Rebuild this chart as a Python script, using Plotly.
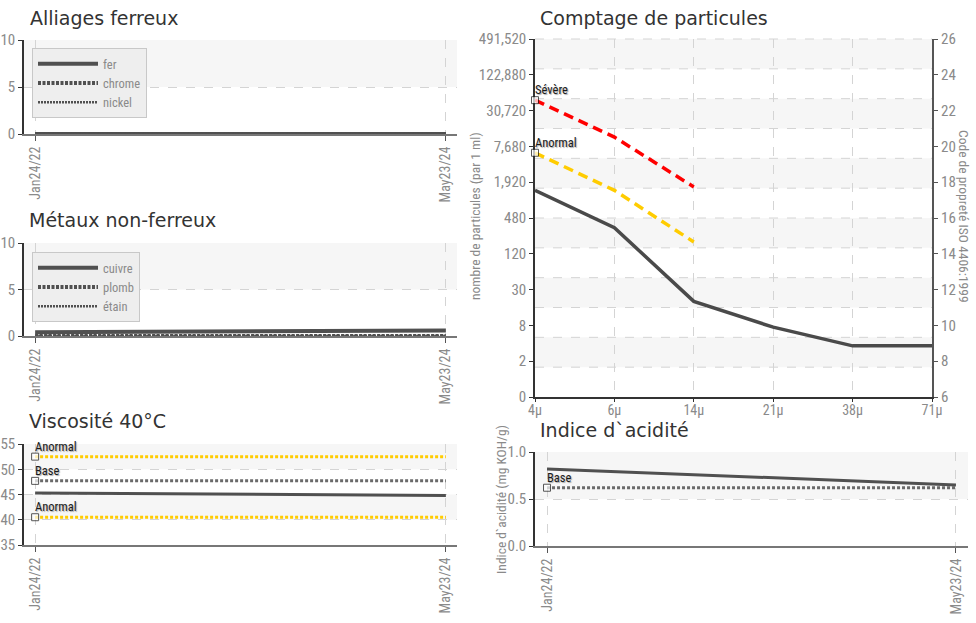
import math
import plotly.graph_objects as go

# ---------------- data ----------------
dates = ["2022-01-24", "2024-05-23"]
date_labels = ["Jan24/22", "May23/24"]

fer = [0, 0]
chrome = [0, 0]
nickel = [0, 0]

cuivre = [0.4, 0.6]
plomb = [0, 0]
etain = [0, 0]

visc = [45.3, 44.8]
visc_anormal_haut = [52.5, 52.5]
visc_base = [47.7, 47.7]
visc_anormal_bas = [40.5, 40.5]

acide = [0.82, 0.65]
acide_base = [0.62, 0.62]

tailles = ["4µ", "6µ", "14µ", "21µ", "38µ", "71µ"]
particules = [1400, 330, 19, 7.0, 3.4, 3.4]
particules_severe = [46000, 11000, 1600]
particules_anormal = [6000, 1400, 190]
comptage_ticks = [0.46875, 1.875, 7.5, 30, 120, 480, 1920, 7680, 30720, 122880, 491520]
comptage_labels = ["0", "2", "8", "30", "120", "480", "1,920", "7,680", "30,720", "122,880", "491,520"]
iso_ticks = [6, 8, 10, 12, 14, 16, 18, 20, 22, 24, 26]

ticks_ferreux = [0, 5, 10]
ticks_visc = [35, 40, 45, 50, 55]
ticks_acide = [0.0, 0.5, 1.0]

# ---------------- style ----------------
W, H = 976, 623
def fx(p):
    return p / W
def fy(p):
    return 1 - p / H

NARROW = "Liberation Sans Narrow, Roboto Condensed, Arial Narrow, Liberation Sans, sans-serif"
TITLE = "DejaVu Sans, Verdana, sans-serif"
DARK = "#505050"
YEL = "#ffcc00"
GRID = "#d4d4d4"
BAND = "#f6f6f6"
TICKF = dict(family=NARROW, size=15, color="#8a8a8a")
LBLF = dict(family=NARROW, size=12.5, color="#1a1a1a", shadow="1px 1px 1px #a8a8a8")

fig = go.Figure()
ann = []

def line(x, y, xa, ya, name, width, dash="solid", color=DARK, legend=None):
    fig.add_trace(go.Scatter(
        x=x, y=y, xaxis=xa, yaxis=ya, name=name, mode="lines",
        line=dict(color=color, width=width, dash=dash),
        showlegend=legend is not None, legend=legend or "legend",
        hoverinfo="skip"))

def seuil(x, y, xa, ya, label, color, width, dash, log=False):
    fig.add_trace(go.Scatter(
        x=x, y=y, xaxis=xa, yaxis=ya, mode="lines+markers",
        line=dict(color=color, width=width, dash=dash),
        marker=dict(symbol="square", size=[7] + [0] * (len(y) - 1), color="white",
                    line=dict(color="#111", width=1)),
        showlegend=False, cliponaxis=False, hoverinfo="skip"))
    ya_pos = math.log10(y[0]) if log else y[0]
    xa_pos = 0 if log else x[0]
    ann.append(dict(text=label, x=xa_pos, y=ya_pos, xref=xa, yref=ya, xanchor="left",
                    yanchor="bottom", xshift=-2, yshift=1, showarrow=False, font=LBLF))

# chart 1: Alliages ferreux
line(dates, fer, "x", "y", "fer", 4, "solid", legend="legend")
line(dates, chrome, "x", "y", "chrome", 4, "3px,1.5px", legend="legend")
line(dates, nickel, "x", "y", "nickel", 2.5, "2px,1px", legend="legend")

# chart 2: Métaux non-ferreux
line(dates, cuivre, "x2", "y2", "cuivre", 4, "solid", legend="legend2")
line(dates, plomb, "x2", "y2", "plomb", 4, "3px,1.5px", legend="legend2")
line(dates, etain, "x2", "y2", "étain", 2.5, "2px,1px", legend="legend2")

# chart 3: viscosité
seuil(dates, visc_anormal_haut, "x3", "y3", "Anormal", YEL, 3, "3px,2px")
seuil(dates, visc_base, "x3", "y3", "Base", "#6a6a6a", 3, "3px,2px")
seuil(dates, visc_anormal_bas, "x3", "y3", "Anormal", YEL, 3, "3px,2px")
line(dates, visc, "x3", "y3", "viscosité", 3)

# chart 4: acidité
seuil(dates, acide_base, "x4", "y4", "Base", "#6a6a6a", 3, "3px,2px")
line(dates, acide, "x4", "y4", "acidité", 3)

# chart 5: particules
seuil(tailles[:3], particules_severe, "x5", "y5", "Sévère", "#ff0000", 3.5, "10px,6px", log=True)
seuil(tailles[:3], particules_anormal, "x5", "y5", "Anormal", YEL, 3.5, "10px,6px", log=True)
line(tailles, particules, "x5", "y5", "particules", 3.5, color="#4a4a4a")
fig.add_trace(go.Scatter(x=[], y=[], xaxis="x5", yaxis="y6", showlegend=False))

# ---------------- axes ----------------
def date_x(domain, rng, anchor):
    return dict(domain=domain, anchor=anchor, type="date", range=rng, automargin=False,
                tickmode="array", tickvals=dates, ticktext=date_labels, tickangle=-90,
                tickfont=dict(family=NARROW, size=14, color="#8a8a8a"),
                showline=True, linecolor="#777", linewidth=2, ticks="outside",
                ticklen=5, tickcolor="#555", showgrid=True, gridcolor=GRID,
                griddash="dash", zeroline=False, layer="below traces", fixedrange=True)

def lin_y(domain, rng, tv, anchor, fmt=None):
    d = dict(domain=domain, anchor=anchor, range=rng, tickmode="array", tickvals=tv,
             automargin=False,
             tickfont=TICKF, showline=True, linecolor="#333", linewidth=1.5,
             ticks="outside", ticklen=4, tickcolor="#333", showgrid=True,
             gridcolor=GRID, griddash="dash", zeroline=False, layer="below traces")
    if fmt:
        d["tickformat"] = fmt
    return d

left_dom = [fx(24), fx(457)]
left_rng = ["2022-01-01", "2024-06-15"]
LEG = dict(bgcolor="#eeeeee", bordercolor="#c8c8c8", borderwidth=1, tracegroupgap=0,
           xanchor="left", yanchor="top", itemwidth=60,
           font=dict(family=NARROW, size=12.5, color="#8a8a8a"))

layout = dict(
    width=W, height=H, margin=dict(l=0, r=0, t=0, b=0, autoexpand=False),
    paper_bgcolor="white", plot_bgcolor="white",
    xaxis=date_x(left_dom, left_rng, "y"),
    yaxis=lin_y([fy(134), fy(40)], [0, 10], ticks_ferreux, "x"),
    xaxis2=date_x(left_dom, left_rng, "y2"),
    yaxis2=lin_y([fy(336), fy(243)], [0, 10], ticks_ferreux, "x2"),
    xaxis3=date_x(left_dom, left_rng, "y3"),
    yaxis3=lin_y([fy(545), fy(444)], [35, 55], ticks_visc, "x3"),
    xaxis4=date_x([fx(535), fx(968)], ["2021-12-30", "2024-06-17"], "y4"),
    yaxis4=lin_y([fy(546), fy(452)], [0, 1], ticks_acide, "x4", ".1f"),
    xaxis5=dict(domain=[fx(535), fx(932)], anchor="y5", type="category", automargin=False,
                categoryorder="array", categoryarray=tailles, range=[0, 5],
                tickfont=dict(family=NARROW, size=14, color="#8a8a8a"),
                showline=True, linecolor="#333", linewidth=1.5,
                ticks="outside", ticklen=3, tickcolor="#333", showgrid=True,
                ticklabelstandoff=-4,
                gridcolor=GRID, griddash="dash", zeroline=False, layer="below traces"),
    yaxis5=dict(domain=[fy(397), fy(39)], anchor="x5", type="log", automargin=False,
                range=[math.log10(comptage_ticks[0]), math.log10(comptage_ticks[-1])],
                tickmode="array", tickvals=comptage_ticks, ticktext=comptage_labels,
                tickfont=TICKF, showline=True, linecolor="#333", linewidth=1.5,
                ticks="outside", ticklen=4, tickcolor="#333", showgrid=False,
                zeroline=False, layer="below traces"),
    yaxis6=dict(overlaying="y5", anchor="x5", side="right", automargin=False,
                range=[iso_ticks[0], iso_ticks[-1]],
                tickmode="array", tickvals=iso_ticks, tickfont=TICKF, showline=True,
                linecolor="#555", linewidth=2, ticks="outside", ticklen=4,
                tickcolor="#555", showgrid=False, zeroline=False),
    legend=dict(x=fx(32), y=fy(48), **LEG),
    legend2=dict(x=fx(32), y=fy(252), **LEG),
    hovermode=False,
)

shapes = []
def bands(xa, ya, ticks):
    t = sorted(ticks, reverse=True)
    for i in range(0, len(t) - 1, 2):
        shapes.append(dict(type="rect", xref=f"{xa} domain", yref=ya, x0=0, x1=1,
                           y0=t[i + 1], y1=t[i], fillcolor=BAND, line_width=0, layer="below"))

bands("x", "y", ticks_ferreux)
bands("x2", "y2", ticks_ferreux)
bands("x3", "y3", ticks_visc)
bands("x4", "y4", ticks_acide)
n = 12
for k in range(n):
    if k % 2 == 0:
        shapes.append(dict(type="rect", xref="x5 domain", yref="y5 domain", x0=0, x1=1,
                           y0=1 - (k + 1) / n, y1=1 - k / n, fillcolor=BAND,
                           line_width=0, layer="below"))
    shapes.append(dict(type="line", xref="x5 domain", yref="y5 domain", x0=0, x1=1,
                       y0=1 - k / n, y1=1 - k / n, line=dict(color=GRID, width=1, dash="dash"),
                       layer="below"))
layout["shapes"] = shapes

def title(text, x, y):
    ann.append(dict(text=text, x=fx(x), y=fy(y), xref="paper", yref="paper",
                    xanchor="left", yanchor="middle", showarrow=False,
                    font=dict(family=TITLE, size=19, color="#333")))
title("Alliages ferreux", 28, 18)
title("Métaux non-ferreux", 27, 220)
title("Viscosité 40°C", 27, 421)
title("Comptage de particules", 538, 18)
title("Indice d`acidité", 538, 430)

def ytitle(text, x, y, angle):
    ann.append(dict(text=text, x=fx(x), y=fy(y), xref="paper", yref="paper",
                    xanchor="center", yanchor="middle", showarrow=False, textangle=angle,
                    font=dict(family=NARROW, size=13.5, color="#8a8a8a")))
ytitle("nombre de particules (par 1 ml)", 475, 216, -90)
ytitle("Code de propreté ISO 4406:1999", 964, 216, 90)
ytitle("Indice d`acidité (mg KOH/g)", 501, 499, -90)
layout["annotations"] = ann

fig.update_layout(**layout)
fig.write_html("out.html", config={"responsive": False, "displayModeBar": False},
               post_script="document.body.style.margin='0px';document.body.style.padding='0px';")
